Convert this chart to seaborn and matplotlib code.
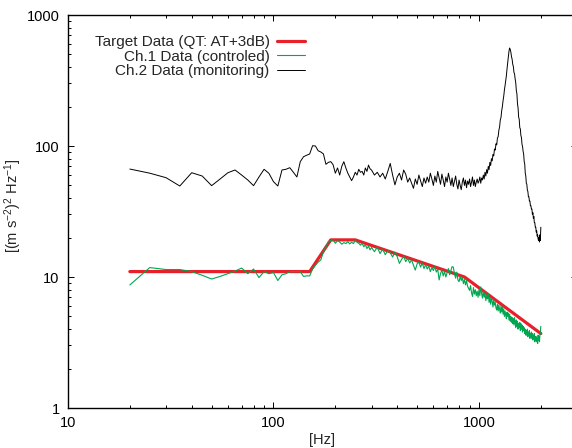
import numpy as np
import pandas as pd
import matplotlib
matplotlib.use("Agg")
import matplotlib.pyplot as plt
import matplotlib.ticker as mticker
import seaborn as sns

# frequency grids (Hz): 5 Hz bins below 300 Hz, 10 Hz bins above
freq_lo = np.arange(20, 300, 5)
freq_mid = np.arange(300, 1000, 10)
freq_hi = np.arange(1000, 2001, 10)

# target profile breakpoints
target_freq = [20, 150, 190, 250, 850, 2000]
target_psd = [11.0, 11.0, 19.2, 19.2, 10.0, 3.7]

# Ch.1 (controlled)
ch1_lo = [8.7, 11.8, 11.4, 11.4, 11.0, 10.3, 9.65, 10.1, 10.6, 11.1,
          11.7, 10.6, 11.5, 9.9, 11.0, 10.6, 10.8, 9.4, 10.4, 10.6,
          11.0, 11.0, 11.0, 11.0, 10.1, 10.2, 10.2, 11.5, 12.3, 13.0,
          13.5, 15.6, 17.0, 18.6, 19.0, 19.2, 18.1, 19.0, 18.5, 17.8,
          18.3, 18.0, 18.6, 17.9, 18.4, 18.0, 19.0, 18.4, 18.1, 17.5,
          18.1, 17.0, 17.6, 16.5, 17.2, 16.1]
ch1_mid = [16.8, 15.6, 16.9, 15.1, 16.3, 14.8, 15.9, 15.3, 14.2, 15.5,
           14.3, 12.7, 13.6, 14.4, 13.1, 13.9, 12.8, 13.5, 12.3, 11.3,
           12.6, 13.0, 11.9, 12.8, 11.6, 12.4, 11.5, 12.1, 11.0, 11.8,
           11.2, 12.0, 10.9, 11.5, 9.5, 10.6, 11.3, 10.2, 11.0, 10.0,
           10.8, 11.6, 10.4, 11.2, 12.0, 11.9, 10.6, 9.8, 10.9, 9.5,
           9.2, 10.1, 9.4, 9.9, 8.9, 9.6, 8.7, 9.4, 8.5, 8.2,
           7.9, 8.6, 7.6, 7.1, 8.3, 7.4, 8.0, 7.2, 7.8, 7.0]
ch1_hi = [8.0, 7.2, 8.4, 7.5, 6.9, 7.8, 7.0, 7.6, 6.6, 7.3,
          6.8, 7.5, 6.4, 7.0, 6.2, 6.9, 6.5, 5.9, 6.7, 6.1,
          6.4, 5.8, 5.6, 6.2, 5.5, 6.1, 5.7, 5.3, 6.0, 5.4,
          5.9, 5.2, 5.7, 5.0, 5.5, 5.1, 4.8, 5.4, 5.0, 5.3,
          4.7, 5.2, 4.6, 5.0, 4.5, 4.9, 4.4, 4.8, 4.3, 4.9,
          4.5, 4.1, 4.7, 4.2, 4.6, 4.0, 4.4, 4.1, 4.5, 3.9,
          4.4, 4.0, 4.3, 3.8, 4.2, 3.9, 4.1, 3.7, 4.0, 3.6,
          3.9, 3.6, 4.0, 3.5, 3.8, 3.6, 3.9, 3.4, 3.7, 3.5,
          3.8, 3.4, 3.7, 3.3, 3.6, 3.4, 3.7, 3.2, 3.5, 3.3,
          3.5, 3.2, 3.4, 3.1, 3.6, 3.3, 3.5, 3.2, 3.6, 3.8,
          4.2]

# Ch.2 (monitoring)
ch2_lo = [66.7, 62.0, 57.3, 49.5, 62.5, 59.0, 49.8, 56.0, 62.5, 65.6,
          60.0, 55.0, 49.8, 58.0, 66.4, 61.9, 53.4, 49.5, 65.6, 66.4,
          68.3, 63.0, 58.0, 75.9, 82.8, 85.0, 86.9, 100.5, 100.0, 92.0,
          90.0, 87.0, 72.5, 75.0, 76.0, 72.0, 62.0, 68.0, 60.0, 70.0,
          75.9, 68.0, 62.0, 58.0, 54.4, 58.0, 63.0, 60.0, 66.4, 63.0,
          64.0, 60.0, 68.0, 64.0, 71.5, 67.0]
ch2_mid = [65.6, 60, 63, 58, 62, 56, 64, 73.6, 60, 50.5,
           58, 62, 55, 65.6, 61, 53, 57, 52, 47.5, 56,
           51, 60, 54, 49, 57, 52, 58, 53, 62, 56,
           50, 59, 53, 64, 57, 51, 61, 55, 49, 58,
           53, 62, 56, 50, 57, 49, 54, 59, 51, 47,
           55, 50, 46.4, 53, 57, 50, 55, 48, 54, 51,
           56, 49, 53, 58, 50, 55, 49, 53, 56, 52]
ch2_hi = [54, 58, 52, 57, 55, 60, 56, 63, 59, 66,
          62, 70, 66, 75, 71, 80, 77, 86, 84, 95,
          93, 104, 102, 115, 118, 132, 140, 158, 165, 186,
          200, 222, 240, 268, 290, 318, 345, 390, 430, 480,
          530, 560, 545, 520, 480, 460, 420, 405, 365, 355,
          325, 305, 265, 250, 210, 195, 166, 160, 138, 135,
          120, 116, 103, 99, 91, 87, 76, 73, 62, 59,
          52, 51, 46, 45, 41, 41, 38, 38, 35, 35,
          33, 33, 30, 31, 28, 29, 26, 26, 24, 24,
          22, 22.5, 20.5, 21, 19.5, 19, 20, 18.5, 21, 19,
          24]

freq = np.concatenate([freq_lo, freq_mid, freq_hi])
ch1 = pd.DataFrame({"f": freq, "psd": ch1_lo + ch1_mid + ch1_hi})
ch2 = pd.DataFrame({"f": freq, "psd": ch2_lo + ch2_mid + ch2_hi})
target = pd.DataFrame({"f": target_freq, "psd": target_psd})

sns.set_theme(style="ticks")
plt.rcParams["font.family"] = ["Liberation Sans", "DejaVu Sans"]
plt.rcParams["mathtext.fontset"] = "custom"
plt.rcParams["mathtext.rm"] = "Liberation Sans"
plt.rcParams["mathtext.it"] = "Liberation Sans:italic"
plt.rcParams["mathtext.default"] = "regular"

fig = plt.figure(figsize=(5.72, 4.48), dpi=100)
ax = fig.add_axes([68 / 572, 1 - 408 / 448, (577 - 68) / 572, (408 - 15) / 448])
ax.set_xscale("log")
ax.set_yscale("log")

sns.lineplot(data=target, x="f", y="psd", ax=ax, color="#e8202a", lw=2.3,
             estimator=None, sort=False, label="Target Data (QT: AT+3dB)")
sns.lineplot(data=ch1, x="f", y="psd", ax=ax, color="#00a650", lw=0.8,
             estimator=None, sort=False, label="Ch.1 Data (controled)")
sns.lineplot(data=ch2, x="f", y="psd", ax=ax, color="black", lw=0.7,
             estimator=None, sort=False, label="Ch.2 Data (monitoring)")

ax.set_xlim(10, 3000)
ax.set_ylim(1, 1000)
fmt = mticker.FuncFormatter(lambda v, _: f"{v:g}")
ax.xaxis.set_major_formatter(fmt)
ax.yaxis.set_major_formatter(fmt)
ax.xaxis.set_minor_formatter(mticker.NullFormatter())
ax.yaxis.set_minor_formatter(mticker.NullFormatter())
ax.tick_params(which="both", direction="in", top=True, right=True,
               labelsize=10.5, colors="black", width=0.7)
ax.tick_params(which="major", length=4.5, pad=6)
ax.tick_params(which="minor", length=2.5)
for s in ax.spines.values():
    s.set_linewidth(1.0)
    s.set_color("black")

ax.set_xlabel("[Hz]", fontsize=10.5, labelpad=2)
ax.set_ylabel(r"[(m s$^{-2}$)$^{2}$ Hz$^{-1}$]", fontsize=10.5)
ax.yaxis.set_label_coords(-0.0855, 0.514)

ax.legend(loc="upper right", bbox_to_anchor=(0.466, 0.948), frameon=False,
          markerfirst=False, fontsize=11, handlelength=1.83,
          handletextpad=0.5, labelspacing=0.02, borderpad=0, borderaxespad=0)

fig.savefig("out.png", dpi=100)
